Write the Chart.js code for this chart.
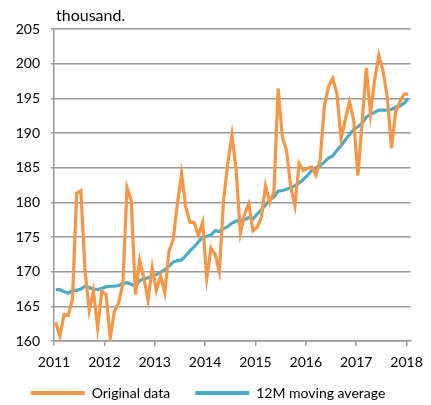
<!DOCTYPE html>
<html>
<head>
<meta charset="utf-8">
<script src="https://cdn.jsdelivr.net/npm/chart.js@4"></script>
<style>
  html, body { margin: 0; padding: 0; background: #fff; }
  #wrap { width: 431px; height: 405px; }
</style>
</head>
<body>
<div id="wrap"><canvas id="myChart" width="431" height="405"></canvas></div>
<script>
// monthly series, Jan 2011 .. Jan 2018 (thousand)
let startYear = 2011;
let yearTicks = [2011, 2012, 2013, 2014, 2015, 2016, 2017, 2018];
let yTicks = [160, 165, 170, 175, 180, 185, 190, 195, 200, 205];
let originalData = [
  162.7, 160.7, 163.8, 163.7, 166.0, 181.3, 181.7, 170.1, 164.4, 167.2, 161.9, 167.2,
  166.7, 160.5, 164.3, 165.5, 168.2, 182.1, 180.3, 166.7, 171.6, 169.1, 165.9, 170.6,
  167.3, 169.4, 167.0, 173.0, 174.6, 179.8, 184.1, 179.3, 177.1, 177.1, 175.3, 177.1,
  169.1, 173.4, 172.5, 170.0, 180.3, 185.6, 189.7, 184.6, 175.6, 178.3, 179.8, 175.9,
  176.4, 177.8, 182.4, 180.0, 181.5, 196.4, 189.4, 187.5, 182.2, 179.5, 185.6, 184.6,
  184.9, 185.1, 183.9, 186.1, 193.8, 196.7, 197.9, 195.7, 189.2, 191.9, 194.5, 191.9,
  183.9, 191.4, 199.4, 192.8, 197.7, 201.2, 198.9, 195.2, 187.8, 193.1, 194.5, 195.6,
  195.6
];
let movingAverage = [
  167.4, 167.4, 167.1, 166.9, 167.3, 167.3, 167.5, 167.9, 167.7, 167.5, 167.4, 167.6,
  167.8, 167.9, 167.9, 168.0, 168.3, 168.4, 168.2, 167.9, 168.7, 169.0, 169.1, 169.4,
  169.6, 169.9, 170.3, 170.8, 171.4, 171.6, 171.7, 172.3, 173.0, 173.6, 174.3, 174.9,
  175.1, 175.3, 175.9, 175.8, 176.2, 176.5, 177.0, 177.3, 177.4, 177.5, 177.8, 177.6,
  178.3, 178.9, 179.6, 180.4, 180.8, 181.6, 181.7, 181.9, 182.1, 182.4, 182.8, 183.3,
  183.9, 184.6, 185.0, 185.3, 185.8, 186.4, 186.7, 187.5, 188.2, 189.0, 189.8, 190.5,
  190.9, 191.4, 192.3, 192.7, 193.0, 193.3, 193.3, 193.3, 193.4, 193.7, 193.9, 194.3,
  195.0
];

function toPoints(values) {
  return values.map((v, i) => ({ x: startYear + (i + 0.4) / 12, y: v }));
}

const fontFamily = 'Lato, "Open Sans", sans-serif';
const gridGrey = '#9a9a9a';

// "thousand." unit label above the y axis
const unitLabel = {
  id: 'unitLabel',
  afterDraw(chart) {
    const ctx = chart.ctx;
    ctx.save();
    ctx.font = '16px ' + fontFamily;
    ctx.fillStyle = '#000';
    ctx.textBaseline = 'alphabetic';
    ctx.fillText('thousand.', chart.chartArea.left + 2, 21);
    ctx.restore();
  }
};

let ctx = document.getElementById('myChart').getContext('2d');
let chart = new Chart(ctx, {
  type: 'line',
  data: {
    datasets: [{
      label: 'Original data',
      data: toPoints(originalData),
      borderColor: '#F79646',
      backgroundColor: '#F79646',
      borderWidth: 3.2,
      pointRadius: 0,
      tension: 0,
      pointStyle: 'line'
    }, {
      label: '12M moving average',
      data: toPoints(movingAverage),
      borderColor: '#4BACC6',
      backgroundColor: '#4BACC6',
      borderWidth: 3.2,
      pointRadius: 0,
      tension: 0,
      pointStyle: 'line'
    }]
  },
  options: {
    responsive: false,
    animation: false,
    layout: { padding: { top: 29, right: 15, left: 0, bottom: -5 } },
    scales: {
      x: {
        type: 'linear',
        min: 2011,
        max: 2018.08,
        afterBuildTicks: (scale) => { scale.ticks = yearTicks.map(v => ({ value: v })); },
        afterFit: (scale) => {
          scale.height = 20;
          scale._computeLabelArea = () => undefined; // let year labels overhang the box
        },
        grid: { drawOnChartArea: false, color: gridGrey, lineWidth: 1.5, tickLength: 5 },
        border: { color: gridGrey, width: 1.5 },
        ticks: { color: '#000', font: { family: fontFamily, size: 14 }, padding: 8, maxRotation: 0,
                 callback: (v) => String(v) }
      },
      y: {
        min: 160,
        max: 205,
        afterBuildTicks: (scale) => { scale.ticks = yTicks.map(v => ({ value: v })); },
        afterFit: (scale) => { scale.width = 54; },
        grid: { color: gridGrey, lineWidth: 1.5, tickLength: 3 },
        border: { color: gridGrey, width: 1.5 },
        ticks: { color: '#000', font: { family: fontFamily, size: 14 }, padding: 11 }
      }
    },
    plugins: {
      legend: {
        position: 'bottom',
        labels: {
          color: '#000',
          font: { family: fontFamily, size: 14 },
          usePointStyle: true,
          pointStyle: 'line',
          pointStyleWidth: 54,
          padding: 25,
          generateLabels: (c) => Chart.defaults.plugins.legend.labels.generateLabels(c)
            .map(l => Object.assign(l, { lineWidth: 4 }))
        }
      },
      title: { display: false },
      tooltip: { enabled: false }
    }
  },
  plugins: [unitLabel]
});
</script>
</body>
</html>
